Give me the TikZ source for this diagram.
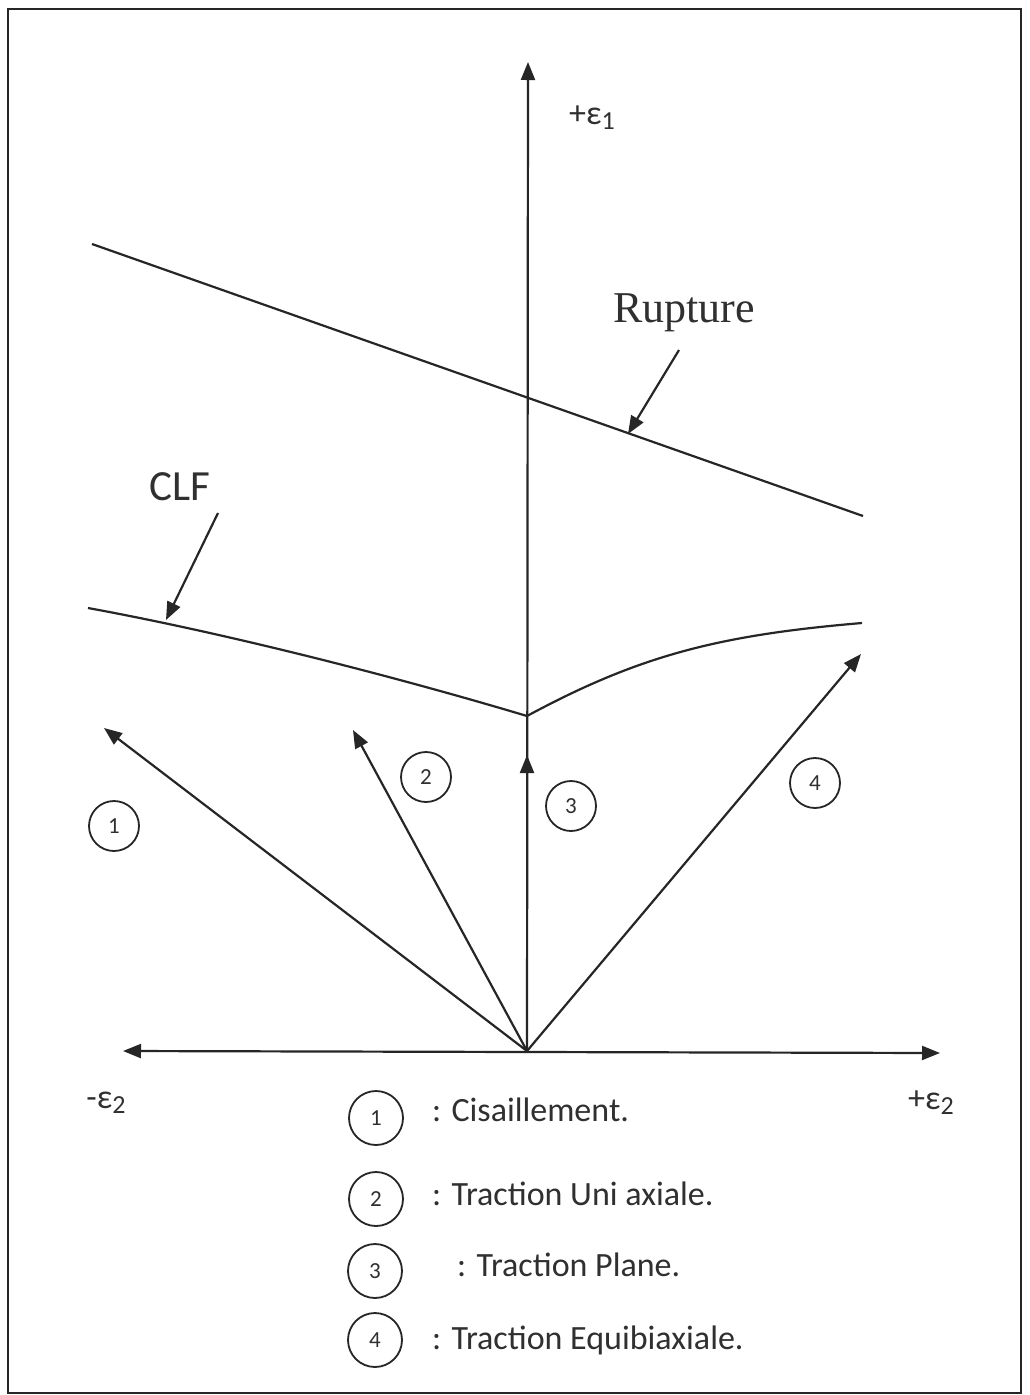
\documentclass[tikz,border=0pt]{standalone}
\usepackage{fontspec}
\setmainfont{Carlito}
\newfontfamily\serifrm{Liberation Serif}
\usetikzlibrary{arrows.meta}
\definecolor{ink}{HTML}{262626}
\definecolor{txt}{HTML}{303030}
\tikzset{
  line/.style={draw=ink, line width=2.2pt},
  tip/.style={-{Triangle[length=18pt,width=14pt]}},
  num/.style={circle, draw=ink, line width=1.8pt, minimum size=50pt, inner sep=0pt,
    text=txt, font=\fontsize{23}{23}\selectfont},
  lnum/.style={num, minimum size=54pt},
  lab/.style={text=txt, inner sep=0pt},
  legend/.style={lab, anchor=west, font=\fontsize{34}{34}\selectfont},
  axlab/.style={lab, font=\fontsize{34}{34}\selectfont}
}
\newcommand{\epsub}[2]{#1ε\raisebox{-0.3ex}{\fontsize{26}{26}\selectfont #2}}
\begin{document}
\begin{tikzpicture}[x=1pt,y=-1pt]
  \useasboundingbox (0,0) rectangle (1030,1395);
  \fill[white] (0,0) rectangle (1030,1395);
  % frame
  \draw[ink, line width=2.4pt] (8,9) rectangle (1021,1393);

  % axes
  \coordinate (O) at (527,1051);
  \coordinate (Ytop) at (528,62);
  \coordinate (Xl) at (123,1051);
  \coordinate (Xr) at (940,1053);
  \draw[line, tip] (O) -- (Ytop);
  \draw[line, {Triangle[length=18pt,width=14pt]}-{Triangle[length=18pt,width=14pt]}] (Xl) -- (Xr);
  \node[axlab] (e1) at (592,118) {\epsub{+}{1}};
  \node[axlab] (e2m) at (106,1103) {\epsub{-}{2}};
  \node[axlab] (e2p) at (931,1103) {\epsub{+}{2}};

  % loading paths
  \coordinate (P1) at (104,728);
  \coordinate (P2) at (353,730);
  \coordinate (P3) at (527,755);
  \coordinate (P4) at (861,654);
  \draw[line, tip] (O) -- (P1);
  \draw[line, tip] (O) -- (P2);
  \draw[line, tip] (O) -- (P3);
  \draw[line, tip] (O) -- (P4);
  \node[num] (c1) at (114,826) {1};
  \node[num] (c2) at (426,777) {2};
  \node[num] (c3) at (571,806) {3};
  \node[num] (c4) at (815,783) {4};

  % rupture line
  \coordinate (R1) at (92,244);
  \coordinate (R2) at (863,516);
  \draw[line] (R1) -- (R2);
  \node[lab, font=\serifrm\fontsize{44}{44}\selectfont] (rup) at (684,313) {Rupture};
  \coordinate (rupS) at (679,350);
  \coordinate (rupT) at (628,434);
  \draw[line, tip] (rupS) -- (rupT);

  % forming limit curve
  \coordinate (F1) at (88,608);
  \coordinate (F0) at (527,716);
  \coordinate (F2) at (862,623);
  \draw[line] (F1) .. controls (230,634) and (400,678) .. (F0)
              .. controls (640,655) and (720,635) .. (F2);
  \node[lab, font=\fontsize{43}{43}\selectfont] (clf) at (180,487) {CLF};
  \coordinate (clfS) at (218,513);
  \coordinate (clfT) at (166,620);
  \draw[line, tip] (clfS) -- (clfT);

  % legend
  \node[lnum] (l1) at (376,1118) {1};
  \node[lnum] (l2) at (376,1199) {2};
  \node[lnum] (l3) at (375,1271) {3};
  \node[lnum] (l4) at (375,1340) {4};
  \node[legend] (t1) at (432,1110) {: Cisaillement.};
  \node[legend] (t2) at (432,1194) {: Traction Uni axiale.};
  \node[legend] (t3) at (457,1265) {: Traction Plane.};
  \node[legend] (t4) at (432,1340) {: Traction Equibiaxiale.};
\end{tikzpicture}
\end{document}
